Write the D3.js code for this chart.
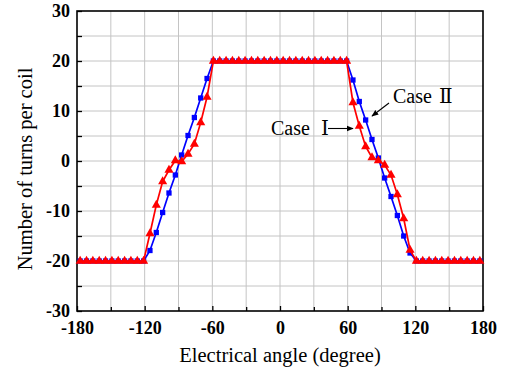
<!DOCTYPE html>
<html>
<head>
<meta charset="utf-8">
<script src="https://cdn.jsdelivr.net/npm/d3@7"></script>
<style>
  html, body { margin: 0; padding: 0; background: #fff; }
  svg { display: block; }
  text { font-family: "Liberation Serif", "DejaVu Serif", serif; fill: #000; }
</style>
</head>
<body>
<svg id="chart" width="513" height="376"></svg>
<script>
// ---- data ----
const angles = [
  -177.19, -171.56, -165.94, -160.31, -154.69, -149.06, -143.44, -137.81, -132.19, -126.56,
  -120.94, -115.31, -109.69, -104.06, -98.44, -92.81, -87.19, -81.56, -75.94, -70.31,
  -64.69, -59.06, -53.44, -47.81, -42.19, -36.56, -30.94, -25.31, -19.69, -14.06,
  -8.44, -2.81, 2.81, 8.44, 14.06, 19.69, 25.31, 30.94, 36.56, 42.19,
  47.81, 53.44, 59.06, 64.69, 70.31, 75.94, 81.56, 87.19, 92.81, 98.44,
  104.06, 109.69, 115.31, 120.94, 126.56, 132.19, 137.81, 143.44, 149.06, 154.69,
  160.31, 165.94, 171.56, 177.19
];
const caseI = [
  -20, -20, -20, -20, -20, -20, -20, -20, -20, -20,
  -20, -14.5, -8.8, -4.1, -1.8, 0.1, -0.1, 1.4, 3.4, 7.7,
  12.8, 20, 20, 20, 20, 20, 20, 20, 20, 20,
  20, 20, 20, 20, 20, 20, 20, 20, 20, 20,
  20, 20, 20, 11.7, 7.0, 2.9, 0.7, 0.1, -0.8, -2.8,
  -6.7, -11.5, -17.8, -20, -20, -20, -20, -20, -20, -20,
  -20, -20, -20, -20
];
const caseII = [
  -20, -20, -20, -20, -20, -20, -20, -20, -20, -20,
  -20, -17.9, -14.3, -10.3, -6.4, -2.8, 1.2, 5.1, 8.7, 12.6,
  16.5, 20, 20, 20, 20, 20, 20, 20, 20, 20,
  20, 20, 20, 20, 20, 20, 20, 20, 20, 20,
  20, 20, 20, 16.2, 11.9, 8.2, 4.3, 0.6, -3.4, -7.1,
  -10.9, -15.0, -18.4, -20, -20, -20, -20, -20, -20, -20,
  -20, -20, -20, -20
];
const xTicks = [-180, -120, -60, 0, 60, 120, 180];
const xMinor = [-150, -90, -30, 30, 90, 150];
const yTicks = [-30, -20, -10, 0, 10, 20, 30];
const yMinor = [-25, -15, -5, 5, 15, 25];
const xGrid = [-150, -120, -90, -60, -30, 0, 30, 60, 90, 120, 150];
const yGrid = [-25, -20, -15, -10, -5, 0, 5, 10, 15, 20, 25];

// ---- layout ----
const svg = d3.select("#chart");
const L = 77, R = 483, T = 11, B = 311;
const x = d3.scaleLinear().domain([-180, 180]).range([L, R]);
const y = d3.scaleLinear().domain([-30, 30]).range([B, T]);
const fmt = d => String(d);

// grid
const grid = svg.append("g").attr("stroke", "#c4c4c4").attr("stroke-width", 1);
grid.selectAll(".gx").data(xGrid).enter().append("line")
  .attr("x1", d => x(d)).attr("x2", d => x(d)).attr("y1", T).attr("y2", B);
grid.selectAll(".gy").data(yGrid).enter().append("line")
  .attr("y1", d => y(d)).attr("y2", d => y(d)).attr("x1", L).attr("x2", R);

// axes
const xAxis = svg.append("g").attr("transform", `translate(0,${B})`)
  .call(d3.axisBottom(x).tickValues(xTicks).tickSize(-5).tickPadding(10).tickFormat(fmt));
const xAxisMinor = svg.append("g").attr("transform", `translate(0,${B})`)
  .call(d3.axisBottom(x).tickValues(xMinor).tickSize(-4).tickFormat(""));
const yAxis = svg.append("g").attr("transform", `translate(${L},0)`)
  .call(d3.axisLeft(y).tickValues(yTicks).tickSize(-5).tickPadding(7).tickFormat(fmt));
const yAxisMinor = svg.append("g").attr("transform", `translate(${L},0)`)
  .call(d3.axisLeft(y).tickValues(yMinor).tickSize(-5).tickFormat(""));
[xAxis, xAxisMinor, yAxis, yAxisMinor].forEach(g => {
  g.select(".domain").remove();
  g.selectAll(".tick line").attr("stroke", "#000").attr("stroke-width", 1.3);
  g.selectAll("text").attr("font-family", "Liberation Serif, serif")
    .attr("font-size", 18).attr("font-weight", "bold").attr("fill", "#000");
});
xAxis.selectAll("text").attr("dy", "0.71em");
yAxis.selectAll("text").attr("dy", "0.32em");

// frame
svg.append("rect").attr("x", L).attr("y", T).attr("width", R - L).attr("height", B - T)
  .attr("fill", "none").attr("stroke", "#000").attr("stroke-width", 1.6);

// series
const line = d3.line().x((d, i) => x(angles[i])).y(d => y(d));
function drawSeries(vals, color, symType, size) {
  svg.append("path").datum(vals).attr("d", line)
    .attr("fill", "none").attr("stroke", color).attr("stroke-width", 1.7);
  svg.append("g").selectAll("path").data(vals).enter().append("path")
    .attr("d", d3.symbol().type(symType).size(size))
    .attr("transform", (d, i) => `translate(${x(angles[i])},${y(d)})`)
    .attr("fill", color);
}
drawSeries(caseII, "#0000ff", d3.symbolSquare, 28);
drawSeries(caseI, "#ff0000", d3.symbolTriangle, 36);

// axis titles
svg.append("text").attr("x", (L + R) / 2).attr("y", 362).attr("text-anchor", "middle")
  .attr("font-size", 20.5).text("Electrical angle (degree)");
svg.append("text").attr("transform", `translate(32,169) rotate(-90)`)
  .attr("text-anchor", "middle").attr("font-size", 20.5).text("Number of turns per coil");

// annotations
const tII = svg.append("text").attr("x", 393).attr("y", 103).attr("font-size", 20);
tII.append("tspan").text("Case ");
tII.append("tspan").attr("dx", 2).text("Ⅱ");
const tI = svg.append("text").attr("x", 271).attr("y", 135).attr("font-size", 20);
tI.append("tspan").text("Case ");
tI.append("tspan").attr("dx", 6).text("Ⅰ");

const defs = svg.append("defs");
defs.append("marker").attr("id", "arr").attr("viewBox", "0 0 10 10")
  .attr("refX", 9).attr("refY", 5).attr("markerWidth", 7).attr("markerHeight", 7)
  .attr("markerUnits", "userSpaceOnUse").attr("orient", "auto")
  .append("path").attr("d", "M0,1 L10,5 L0,9 Z").attr("fill", "#000");
svg.append("line").attr("x1", 389).attr("y1", 103).attr("x2", 372).attr("y2", 116)
  .attr("stroke", "#000").attr("stroke-width", 1.1).attr("marker-end", "url(#arr)");
svg.append("line").attr("x1", 328).attr("y1", 128.5).attr("x2", 353).attr("y2", 128.5)
  .attr("stroke", "#000").attr("stroke-width", 1.1).attr("marker-end", "url(#arr)");
</script>
</body>
</html>
